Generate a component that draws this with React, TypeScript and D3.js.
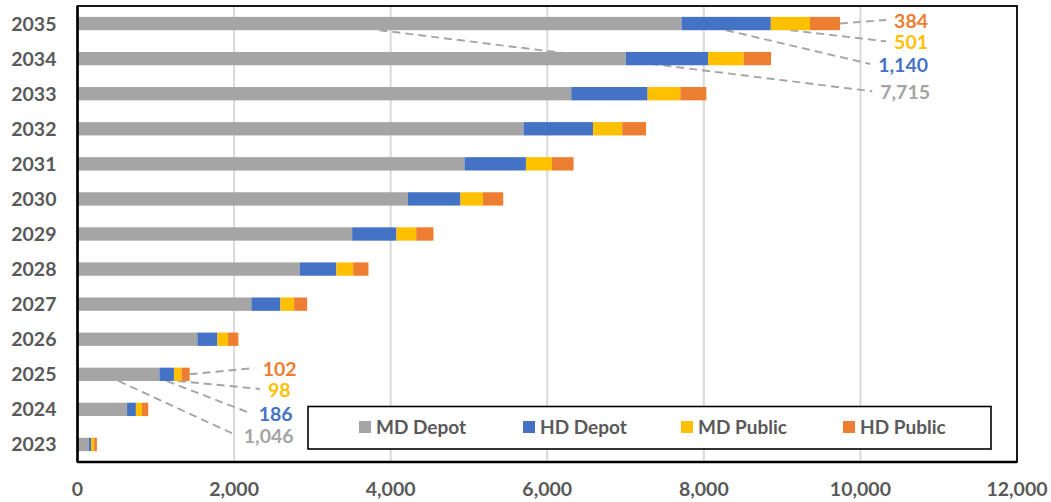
import React, { useEffect, useRef } from 'react';
import * as d3 from 'd3';

// categories top to bottom
const years = ['2035', '2034', '2033', '2032', '2031', '2030', '2029', '2028', '2027', '2026', '2025', '2024', '2023'];
const mdDepot = [7715, 7003, 6307, 5697, 4943, 4220, 3508, 2840, 2221, 1531, 1046, 633, 145];
const hdDepot = [1140, 1051, 975, 887, 785, 672, 566, 467, 371, 256, 186, 113, 28];
const mdPublic = [501, 455, 418, 374, 332, 288, 252, 214, 175, 136, 98, 78, 40];
const hdPublic = [384, 350, 332, 303, 276, 258, 221, 195, 166, 132, 102, 79, 35];
const seriesNames = ['MD Depot', 'HD Depot', 'MD Public', 'HD Public'];
const xTicks = [0, 2000, 4000, 6000, 8000, 10000, 12000];
const calloutYears = ['2035', '2025'];

const colors = ['#A5A5A5', '#4472C4', '#FFC000', '#ED7D31'];
const labelColors = ['#A5A5A5', '#4472C4', '#FFC000', '#ED7D31'];

// callout label placement (pixel offsets from bar end / band centre), per series
const calloutDx: Record<string, number[]> = { '2035': [90, 88, 88, 88], '2025': [104, 103, 101, 107] };
const calloutDy: Record<string, number[]> = { '2035': [68.8, 41.5, 18.8, -2.6], '2025': [61.7, 40, 15.7, -5.3] };

export default function App() {
    const width = 1051;
    const height = 502;
    const margin = { top: 6, right: 34, bottom: 40, left: 77.5 };
    const font = 'Lato, "Open Sans", sans-serif';
    const d3svg = useRef<SVGSVGElement>(null);

    useEffect(() => {
        if (!d3svg.current) return;
        const svg = d3.select(d3svg.current);
        svg.selectAll('*').remove();

        const x = d3.scaleLinear().domain([0, 12000]).range([margin.left, width - margin.right]);
        const y = d3.scaleBand().domain(years).range([margin.top, height - margin.bottom])
            .paddingInner(0.62).paddingOuter(0.31);
        const bw = y.bandwidth();

        const rows = years.map((yr, i) => ({ year: yr, MD0: mdDepot[i], HD0: hdDepot[i], MD1: mdPublic[i], HD1: hdPublic[i] }));
        const stack = d3.stack<any>().keys(['MD0', 'HD0', 'MD1', 'HD1'])(rows);

        // gridlines
        svg.append('g')
            .selectAll('line')
            .data(xTicks.slice(1, -1))
            .enter()
            .append('line')
            .attr('x1', d => x(d)).attr('x2', d => x(d))
            .attr('y1', margin.top).attr('y2', height - margin.bottom)
            .attr('stroke', '#D9D9D9')
            .attr('stroke-width', 2);

        // leader lines (drawn under the bars)
        const leaders = svg.append('g');
        const labels = svg.append('g');

        // bars
        svg.append('g')
            .selectAll('g')
            .data(stack)
            .enter()
            .append('g')
            .attr('fill', (_, i) => colors[i])
            .selectAll('rect')
            .data(d => d)
            .enter()
            .append('rect')
            .attr('x', d => x(d[0]))
            .attr('width', d => x(d[1]) - x(d[0]))
            .attr('y', d => y(d.data.year) as number)
            .attr('height', bw);

        // callouts
        calloutYears.forEach(yr => {
            const i = years.indexOf(yr);
            const cy = (y(yr) as number) + bw / 2;
            const total = stack[3][i][1];
            stack.forEach((s, k) => {
                const [a, b] = s[i];
                const val = b - a;
                const lx = x(total) + calloutDx[yr][k];
                const ly = cy + calloutDy[yr][k];
                const t = labels.append('text')
                    .attr('x', lx)
                    .attr('y', ly)
                    .attr('dy', '0.36em')
                    .attr('text-anchor', 'end')
                    .attr('font-family', font)
                    .attr('font-weight', 700)
                    .attr('font-size', 19.5)
                    .attr('fill', labelColors[k])
                    .text(d3.format(',')(val));
                const tl = (t.node() as SVGTextElement).getComputedTextLength();
                const sx = k === 3 ? x(b) : x((a + b) / 2);
                const sy = k === 3 ? cy : cy + bw / 2;
                leaders.append('line')
                    .attr('x1', sx).attr('y1', sy)
                    .attr('x2', lx - tl - 8).attr('y2', ly - 1)
                    .attr('stroke', '#A5A5A5')
                    .attr('stroke-width', 1.9)
                    .attr('stroke-dasharray', '8,5');
            });
        });

        // plot border
        svg.append('rect')
            .attr('x', margin.left).attr('y', margin.top)
            .attr('width', width - margin.right - margin.left)
            .attr('height', height - margin.bottom - margin.top)
            .attr('fill', 'none')
            .attr('stroke', '#000')
            .attr('stroke-width', 1.8);
        svg.append('line')
            .attr('x1', margin.left).attr('x2', width - margin.right)
            .attr('y1', height - margin.bottom).attr('y2', height - margin.bottom)
            .attr('stroke', '#000').attr('stroke-width', 2.5);
        svg.append('line')
            .attr('x1', margin.left).attr('x2', margin.left)
            .attr('y1', margin.top).attr('y2', height - margin.bottom)
            .attr('stroke', '#000').attr('stroke-width', 2.5);

        // y labels
        svg.append('g')
            .selectAll('text')
            .data(years)
            .enter()
            .append('text')
            .attr('x', margin.left - 21)
            .attr('y', d => (y(d) as number) + bw / 2)
            .attr('dy', '0.36em')
            .attr('text-anchor', 'end')
            .attr('font-family', font)
            .attr('font-weight', 700)
            .attr('font-size', 19.5)
            .attr('fill', '#595959')
            .text(d => d);

        // x labels
        svg.append('g')
            .selectAll('text')
            .data(xTicks)
            .enter()
            .append('text')
            .attr('x', d => x(d))
            .attr('y', 489)
            .attr('dy', '0.36em')
            .attr('text-anchor', 'middle')
            .attr('font-family', font)
            .attr('font-weight', 700)
            .attr('font-size', 19.5)
            .attr('fill', '#595959')
            .text(d => d3.format(',')(d));

        // legend
        const legend = svg.append('g');
        legend.append('rect')
            .attr('x', 308).attr('y', 406.5)
            .attr('width', 683).attr('height', 42.5)
            .attr('fill', '#fff')
            .attr('stroke', '#000')
            .attr('stroke-width', 1.6);
        const legendX = [359, 523, 681, 843];
        seriesNames.forEach((name, k) => {
            legend.append('rect')
                .attr('x', legendX[k]).attr('y', 421)
                .attr('width', 12).attr('height', 12)
                .attr('fill', colors[k]);
            legend.append('text')
                .attr('x', legendX[k] + 17)
                .attr('y', 427)
                .attr('dy', '0.36em')
                .attr('font-family', font)
                .attr('font-weight', 700)
                .attr('font-size', 19)
                .attr('fill', '#595959')
                .text(name);
        });
    // eslint-disable-next-line react-hooks/exhaustive-deps
    }, []);

    return (
        <svg
            ref={d3svg}
            width={width}
            height={height}
            style={{ position: 'absolute', left: 0, top: 0, background: '#fff' }}
        ></svg>
    );
}
